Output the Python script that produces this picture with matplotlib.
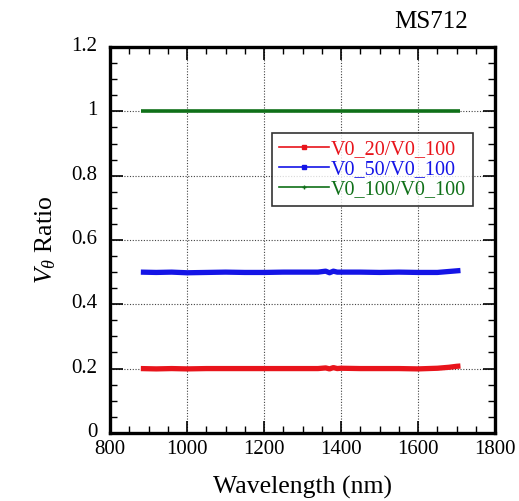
import matplotlib
matplotlib.use('Agg')
import matplotlib.pyplot as plt
import matplotlib.transforms as mtransforms
from matplotlib.ticker import MultipleLocator, FuncFormatter

plt.rcParams['font.family'] = ['Liberation Serif', 'DejaVu Serif']
plt.rcParams['mathtext.fontset'] = 'custom'
plt.rcParams['mathtext.rm'] = 'Liberation Serif'
plt.rcParams['mathtext.it'] = 'Liberation Serif:italic'

# Data
wavelength = [880, 920, 960, 1000, 1050, 1100, 1150, 1200, 1250, 1300, 1340,
              1360, 1370, 1380, 1390, 1400, 1450, 1500, 1550, 1600, 1650,
              1680, 1700, 1710]
ratio_20 = [0.200, 0.199, 0.200, 0.199, 0.200, 0.200, 0.200, 0.200, 0.200,
            0.200, 0.200, 0.202, 0.199, 0.203, 0.200, 0.201, 0.200, 0.200,
            0.200, 0.199, 0.201, 0.204, 0.207, 0.208]
ratio_50 = [0.500, 0.499, 0.500, 0.498, 0.499, 0.500, 0.499, 0.499, 0.500,
            0.500, 0.500, 0.503, 0.498, 0.503, 0.500, 0.500, 0.500, 0.499,
            0.500, 0.499, 0.499, 0.502, 0.504, 0.505]
ratio_100 = [1.0] * len(wavelength)

series = [
    ('V0_20/V0_100', ratio_20, '#e8141b', 's', 3.8),
    ('V0_50/V0_100', ratio_50, '#1414e6', 's', 3.8),
    ('V0_100/V0_100', ratio_100, '#0f7018', '+', 2.6),
]

fig = plt.figure(figsize=(5.19, 5.01), dpi=100)
ax = fig.add_axes([0.212, 0.136, 0.742, 0.770])

for label, vals, color, mk, lw in series:
    ax.plot(wavelength, vals, color=color, lw=lw, solid_capstyle='butt')
    # legend proxy: thin line with a small marker
    ax.plot([], [], color=color, lw=1.2, marker=mk, markersize=3.5,
            label=label)

ax.set_xlim(800, 1800)
ax.set_ylim(0, 1.2)
ax.xaxis.set_major_locator(MultipleLocator(200))
ax.xaxis.set_minor_locator(MultipleLocator(50))
ax.yaxis.set_major_locator(MultipleLocator(0.2))
ax.yaxis.set_minor_locator(MultipleLocator(0.05))
ax.yaxis.set_major_formatter(FuncFormatter(lambda v, p: f'{v:g}'))

ax.tick_params(which='both', direction='in', top=True, right=True,
               labelsize=15, colors='black')
ax.tick_params(which='major', length=9, width=1.2, pad=9)
ax.tick_params(which='minor', length=5, width=1.0)
ax.tick_params(axis='x', which='major', pad=5)
for s in ax.spines.values():
    s.set_linewidth(2.4)

# y tick labels sit a little above their ticks
shift = mtransforms.ScaledTranslation(0, 3 / 100, fig.dpi_scale_trans)
for lab in ax.get_yticklabels():
    lab.set_transform(lab.get_transform() + shift)

ax.grid(True, which='major', linestyle=(0, (1, 1.5)), color='#444444',
        linewidth=0.8)

ax.set_xlabel('Wavelength (nm)', fontsize=18.5, labelpad=12)
ax.set_ylabel(r'$V_{\theta}$ Ratio', fontsize=18.5, labelpad=10)
fig.text(0.902, 0.935, 'MS712', fontsize=18, ha='right', va='bottom')

leg = ax.legend(loc='upper left', bbox_to_anchor=(0.420, 0.778),
                fontsize=14.5, frameon=True, fancybox=False, handlelength=2.5,
                handletextpad=0.1, borderpad=0.35, labelspacing=0.05,
                borderaxespad=0)
leg.get_frame().set_edgecolor('black')
leg.get_frame().set_linewidth(1.2)
for txt, (_, _, color, _, _) in zip(leg.get_texts(), series):
    txt.set_color(color)

fig.savefig('out.png', dpi=100)
